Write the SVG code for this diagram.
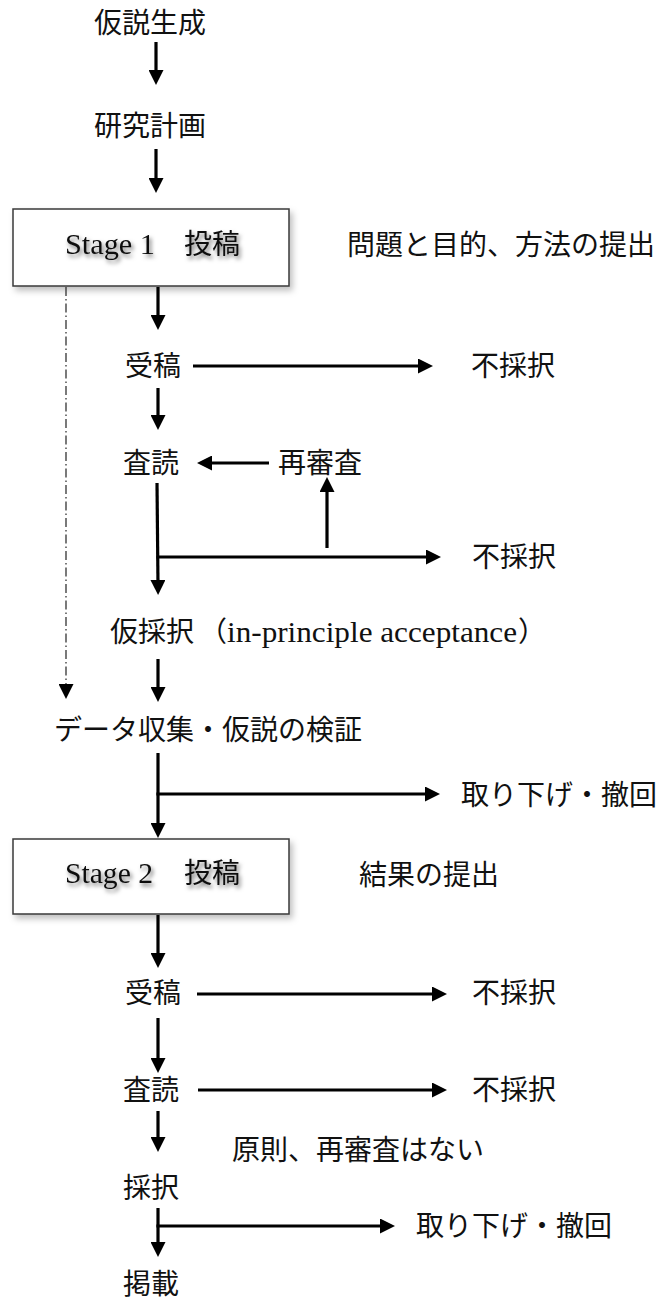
<svg xmlns="http://www.w3.org/2000/svg" width="658" height="1298" viewBox="0 0 658 1298">
  <defs>
    <marker id="ah" markerUnits="userSpaceOnUse" markerWidth="15" markerHeight="15" viewBox="0 0 15 15" refX="5" refY="7.5" orient="auto">
      <path d="M0,0 L15,7.5 L0,15 z" fill="#000"/>
    </marker>
    <filter id="boxShadow" x="-10%" y="-20%" width="130%" height="150%">
      <feDropShadow dx="3" dy="4" stdDeviation="3" flood-color="#000" flood-opacity="0.25"/>
    </filter>
    <filter id="textShadow" x="-10%" y="-30%" width="130%" height="180%">
      <feDropShadow dx="2" dy="3" stdDeviation="2.2" flood-color="#000" flood-opacity="0.55"/>
    </filter>
  </defs>
  <style>
    text { font-family: "Liberation Serif", "Noto Sans CJK JP", serif; font-size: 28px; font-weight: normal; fill: #111; }
    .lat { font-size: 30px; }
    .box { fill: #fff; stroke: #3a3a3a; stroke-width: 1.5; }
    .arr { fill: none; stroke: #000; stroke-width: 3.2; marker-end: url(#ah); }
    .dash { fill: none; stroke: #222; stroke-width: 1.2; stroke-dasharray: 9 3 1.5 3; marker-end: url(#ah); }
  </style>
  <rect width="658" height="1298" fill="#fff"/>

  <g id="n-hypothesis"><text x="94" y="33">仮説生成</text></g>
  <g id="n-plan"><text x="94" y="135.5">研究計画</text></g>

  <g id="n-stage1">
    <rect class="box" x="13" y="209" width="276" height="77" filter="url(#boxShadow)"/>
    <text y="254" filter="url(#textShadow)"><tspan class="lat" x="65" textLength="90" lengthAdjust="spacingAndGlyphs">Stage 1</tspan><tspan x="184">投稿</tspan></text>
  </g>
  <g id="n-stage1-note"><text x="347" y="255">問題と目的、方法の提出</text></g>

  <g id="n-receive1"><text x="125" y="376">受稿</text></g>
  <g id="n-reject1"><text x="471" y="376">不採択</text></g>
  <g id="n-review1"><text x="123" y="473">査読</text></g>
  <g id="n-rereview"><text x="278" y="473">再審査</text></g>
  <g id="n-reject2"><text x="472" y="567">不採択</text></g>
  <g id="n-ipa"><text y="641.5"><tspan x="110">仮採択</tspan><tspan x="199">（</tspan><tspan class="lat" x="227" textLength="290" lengthAdjust="spacingAndGlyphs">in-principle acceptance</tspan><tspan x="518">）</tspan></text></g>
  <g id="n-data"><text x="54" y="740">データ収集・仮説の検証</text></g>
  <g id="n-withdraw1"><text x="461" y="805">取り下げ・撤回</text></g>

  <g id="n-stage2">
    <rect class="box" x="13" y="839" width="276" height="75" filter="url(#boxShadow)"/>
    <text y="883" filter="url(#textShadow)"><tspan class="lat" x="65" textLength="88" lengthAdjust="spacingAndGlyphs">Stage 2</tspan><tspan x="184">投稿</tspan></text>
  </g>
  <g id="n-stage2-note"><text x="359" y="885">結果の提出</text></g>

  <g id="n-receive2"><text x="125" y="1003">受稿</text></g>
  <g id="n-reject3"><text x="472" y="1003">不採択</text></g>
  <g id="n-review2"><text x="123" y="1100">査読</text></g>
  <g id="n-reject4"><text x="472" y="1100">不採択</text></g>
  <g id="n-norereview"><text x="232" y="1160">原則、再審査はない</text></g>
  <g id="n-accept"><text x="123" y="1198">採択</text></g>
  <g id="n-withdraw2"><text x="416" y="1236">取り下げ・撤回</text></g>
  <g id="n-publish"><text x="123" y="1294">掲載</text></g>

  <g id="connectors">
    <path class="arr" d="M156,42 V75"/>
    <path class="arr" d="M156,149 V183"/>
    <path class="arr" d="M158,287 V320"/>
    <path class="arr" d="M193,366 H423"/>
    <path class="arr" d="M158,388 V420"/>
    <path class="arr" d="M269,463 H207"/>
    <path class="arr" d="M327,548 V487"/>
    <path class="arr" d="M157,483 L158,585"/>
    <path class="arr" d="M156.4,557 H431"/>
    <path class="arr" d="M158,659 V692"/>
    <path class="dash" d="M66,287 V689"/>
    <path class="arr" d="M158,753 V828"/>
    <path class="arr" d="M156.4,794 H430"/>
    <path class="arr" d="M158,915 V958"/>
    <path class="arr" d="M197,994 H437"/>
    <path class="arr" d="M158,1018 V1063"/>
    <path class="arr" d="M198,1090 H437"/>
    <path class="arr" d="M158,1111 V1142"/>
    <path class="arr" d="M158,1208 V1247"/>
    <path class="arr" d="M156.4,1226 H385"/>
  </g>
</svg>
